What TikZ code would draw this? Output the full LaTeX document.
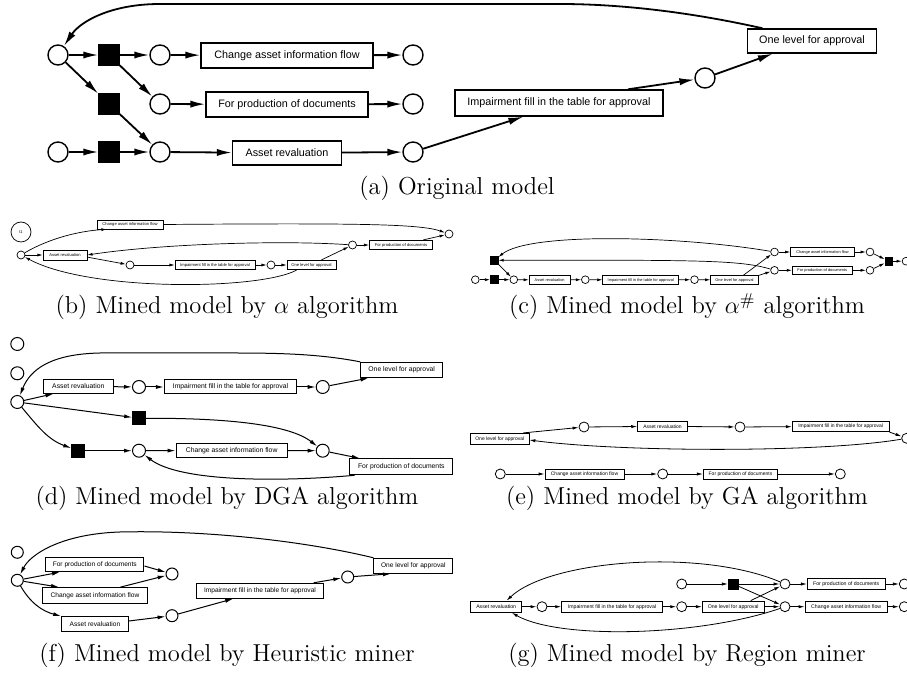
\documentclass[tikz,border=0pt]{standalone}
\usepackage{fontspec}
\newfontfamily\lab{Liberation Sans}
\usetikzlibrary{arrows.meta,calc}
\begin{document}
\begin{tikzpicture}[x=0.5pt,y=-0.5pt,
  bw/.style={minimum width=#1*0.5pt},
  bh/.style={minimum height=#1*0.5pt},
  bx/.style={draw,rectangle,inner sep=0pt,fill=white},
  plc/.style={circle,draw,fill=white,inner sep=0pt,minimum size=#1*0.5pt},
  trs/.style={rectangle,draw,fill=black,inner sep=0pt,minimum size=#1*0.5pt},
  captxt/.style={anchor=base,font=\fontsize{12.25}{14}\selectfont,inner sep=0pt},
  fA/.style={font=\lab\fontsize{5.4}{6}\selectfont},
  fB/.style={font=\lab\fontsize{2.05}{2.5}\selectfont},
  fC/.style={font=\lab\fontsize{1.95}{2.4}\selectfont},
  fD/.style={font=\lab\fontsize{3.4}{4}\selectfont},
  fE/.style={font=\lab\fontsize{2.5}{3}\selectfont},
  fF/.style={font=\lab\fontsize{3.3}{4}\selectfont},
  fG/.style={font=\lab\fontsize{2.6}{3}\selectfont},
  arA/.style={line width=0.9pt,-{Latex[length=7.5pt,width=3.6pt]}},
  arB/.style={line width=0.35pt,-{Latex[length=2.6pt,width=1.5pt]}},
  arD/.style={line width=0.5pt,-{Latex[length=4pt,width=2pt]}},
  arE/.style={line width=0.4pt,-{Latex[length=3pt,width=1.6pt]}},
]
\useasboundingbox (0,0) rectangle (907,673);

% ---------------- (a) ----------------
\begin{scope}[line width=0.7pt]
\node[plc=20] (a_p1) at (58,55) {};
\node[trs=20] (a_t1) at (109,55) {};
\node[plc=20] (a_pc) at (160,55) {};
\node[bx,fA,bw=172,bh=25] (a_bc) at (287,55.5) {Change asset information flow};
\node[plc=20] (a_ec) at (413,55) {};
\node[trs=20] (a_t2) at (109,104) {};
\node[plc=20] (a_pp) at (160,104) {};
\node[bx,fA,bw=162,bh=25] (a_bp) at (287,104.5) {For production of documents};
\node[plc=20] (a_ep) at (413,104) {};
\node[plc=20] (a_s3) at (58,152) {};
\node[trs=20] (a_t3) at (109,152) {};
\node[plc=20] (a_pa) at (160,152) {};
\node[bx,fA,bw=109,bh=24] (a_ba) at (287,153) {Asset revaluation};
\node[plc=20] (a_pa2) at (413,152) {};
\node[bx,fA,bw=208,bh=26] (a_bi) at (559,103) {Impairment fill in the table for approval};
\node[plc=20] (a_pi) at (705,78) {};
\node[bx,fA,bw=129,bh=24] (a_bo) at (812,41) {One level for approval};
\end{scope}
\draw[arA] (a_p1) -- (a_t1);
\draw[arA] (a_t1) -- (a_pc);
\draw[arA] (a_t1) -- (a_pp);
\draw[arA] (a_p1) -- (a_t2);
\draw[arA] (a_t2) -- (a_pa);
\draw[arA] (a_s3) -- (a_t3);
\draw[arA] (a_t3) -- (a_pa);
\draw[arA] (a_pc) -- (a_bc);
\draw[arA] (a_bc) -- (a_ec);
\draw[arA] (a_pp) -- (a_bp);
\draw[arA] (a_bp) -- (a_ep);
\draw[arA] (a_pa) -- (a_ba);
\draw[arA] (a_ba) -- (a_pa2);
\draw[arA] (a_pa2) -- ($(a_bi.south west)!0.33!(a_bi.south east)$);
\draw[arA] ($(a_bi.north west)!0.83!(a_bi.north east)$) -- (a_pi);
\draw[arA] (a_pi) -- ($(a_bo.south west)!0.2!(a_bo.south east)$);
\draw[arA] ($(a_bo.north west)!0.12!(a_bo.north east)$) .. controls (690,12) and (620,4) .. (560,4) -- (160,4) .. controls (110,4) and (80,22) .. (a_p1);
\node[captxt] (capa) at (457,195) {(a) Original model};

% ---------------- (b) ----------------
\begin{scope}[line width=0.35pt]
\node[plc=20,fB] (b_t1) at (21,232) {t1};
\node[plc=8] (b_s) at (21,255) {};
\node[bx,fB,bw=44,bh=10] (b_ba) at (65,255) {Asset revaluation};
\node[bx,fB,bw=66,bh=9] (b_bc) at (130,224.5) {Change asset information flow};
\node[plc=8] (b_p1) at (130,265) {};
\node[bx,fB,bw=80,bh=9.5] (b_bi) at (215,265) {Impairment fill in the table for approval};
\node[plc=8] (b_p2) at (271,265) {};
\node[bx,fB,bw=49,bh=9.5] (b_bo) at (311.5,265) {One level for approval};
\node[plc=8] (b_p3) at (352.5,245) {};
\node[bx,fB,bw=63,bh=9.5] (b_bp) at (401,245) {For production of documents};
\node[plc=8] (b_e) at (449,234) {};
\end{scope}
\draw[arB] (b_s) -- (b_ba);
\draw[arB] (b_s) .. controls (50,238) and (80,231) .. ($(b_bc.south west)!0.15!(b_bc.south east)$);
\draw[arB] (b_bc.east) .. controls (360,223) and (420,224) .. (b_e);
\draw[arB] ($(b_ba.north east)!0.7!(b_ba.south east)$) -- (b_p1);
\draw[arB] (b_p1) -- (b_bi);
\draw[arB] (b_bi) -- (b_p2);
\draw[arB] (b_p2) -- (b_bo);
\draw[arB] ($(b_bo.north west)!0.7!(b_bo.north east)$) -- (b_p3);
\draw[arB] (b_p3) -- (b_bp);
\draw[arB] ($(b_bp.north west)!0.85!(b_bp.north east)$) -- (b_e);
\draw[arB] (b_p3) .. controls (280,240) and (160,244) .. (b_ba.east);
\draw[arB] ($(b_bo.south west)!0.2!(b_bo.south east)$) .. controls (260,290) and (90,292) .. (b_s);
\node[captxt] (capb) at (227,314) {(b) Mined model by $\alpha$ algorithm};

% ---------------- (c) ----------------
\begin{scope}[line width=0.35pt]
\node[plc=7.7] (c_s) at (475.3,279.7) {};
\node[trs=7.7] (c_t1) at (494.3,279.7) {};
\node[plc=7.7] (c_p1) at (513.8,279.7) {};
\node[trs=7.7] (c_t0) at (494.3,260.3) {};
\node[bx,fC,bw=41,bh=8.5] (c_ba) at (549.7,280) {Asset revaluation};
\node[plc=7.7] (c_p2) at (585.3,279.7) {};
\node[bx,fC,bw=76,bh=8.5] (c_bi) at (640.8,280) {Impairment fill in the table for approval};
\node[plc=7.7] (c_p3) at (694.5,279.7) {};
\node[bx,fC,bw=47.7,bh=8.5] (c_bo) at (734.5,280) {One level for approval};
\node[plc=7.7] (c_pu) at (774.5,252) {};
\node[plc=7.7] (c_pl) at (774.5,270.3) {};
\node[bx,fC,bw=63.7,bh=8.5] (c_bc) at (822.5,252) {Change asset information flow};
\node[bx,fC,bw=60,bh=8.5] (c_bp) at (822.3,270.3) {For production of documents};
\node[plc=7.7] (c_pcu) at (870,252) {};
\node[plc=7.7] (c_pcl) at (870,270.3) {};
\node[trs=7.7] (c_t2) at (888.8,261.2) {};
\node[plc=7.7] (c_e) at (906,261.2) {};
\end{scope}
\draw[arB] (c_s) -- (c_t1);
\draw[arB] (c_t1) -- (c_p1);
\draw[arB] (c_t0) -- (c_p1);
\draw[arB] (c_p1) -- (c_ba);
\draw[arB] (c_ba) -- (c_p2);
\draw[arB] (c_p2) -- (c_bi);
\draw[arB] (c_bi) -- (c_p3);
\draw[arB] (c_p3) -- (c_bo);
\draw[arB] ($(c_bo.north west)!0.68!(c_bo.north east)$) -- (c_pu);
\draw[arB] (c_bo.north east) -- (c_pl);
\draw[arB] (c_pu) .. controls (680,236) and (530,232) .. (c_t0);
\draw[arB] (c_pl) .. controls (740,260) and (700,260) .. (c_t0);
\draw[arB] (c_pu) -- (c_bc);
\draw[arB] (c_bc) -- (c_pcu);
\draw[arB] (c_pcu) -- (c_t2);
\draw[arB] (c_pl) -- (c_bp);
\draw[arB] (c_bp) -- (c_pcl);
\draw[arB] (c_pcl) -- (c_t2);
\draw[arB] (c_t2) -- (c_e);
\node[captxt] (capc) at (687,314) {(c) Mined model by $\alpha^{\#}$ algorithm};

% ---------------- (d) ----------------
\begin{scope}[line width=0.5pt]
\node[plc=13] (d_p0) at (17.3,344) {};
\node[plc=13] (d_p00) at (17.3,373.3) {};
\node[plc=13] (d_s) at (17.3,402) {};
\node[bx,fD,bw=70,bh=14] (d_ba) at (78.3,386.3) {Asset revaluation};
\node[plc=13] (d_p1) at (139,387) {};
\node[bx,fD,bw=132.3,bh=14] (d_bi) at (230.5,387) {Impairment fill in the table for approval};
\node[plc=13] (d_p2) at (322.7,387) {};
\node[bx,fD,bw=82,bh=15.3] (d_bo) at (401.7,370) {One level for approval};
\node[trs=13] (d_t1) at (139.2,418.3) {};
\node[trs=13] (d_t2) at (78.3,450.7) {};
\node[plc=13] (d_p3) at (139,450.7) {};
\node[bx,fD,bw=111.3,bh=14.3] (d_bc) at (231.7,450.5) {Change asset information flow};
\node[plc=13] (d_p4) at (322.7,450.7) {};
\node[bx,fD,bw=102.7,bh=16] (d_bp) at (401.3,466.8) {For production of documents};
\end{scope}
\draw[arD] (d_bo.north west) .. controls (320,354) and (280,353) .. (233,353) -- (100,353) .. controls (50,354) and (30,370) .. (d_s);
\draw[arD] (d_s) -- ($(d_ba.south west)!0.15!(d_ba.south east)$);
\draw[arD] (d_ba) -- (d_p1);
\draw[arD] (d_p1) -- (d_bi);
\draw[arD] (d_bi) -- (d_p2);
\draw[arD] (d_p2) -- ($(d_bo.south west)!0.1!(d_bo.south east)$);
\draw[arD] (d_s) -- (d_t1);
\draw[arD] (d_s) to[out=-50,in=160] (d_t2);
\draw[arD] (d_t2) -- (d_p3);
\draw[arD] (d_p3) -- (d_bc);
\draw[arD] (d_bc) -- (d_p4);
\draw[arD] (d_t1) .. controls (230,418) and (290,425) .. (d_p4);
\draw[arD] (d_p4) -- ($(d_bp.north west)!0.1!(d_bp.north east)$);
\draw[arD] ($(d_bp.south west)!0.05!(d_bp.south east)$) .. controls (280,482) and (180,482) .. (d_p3);
\node[captxt] (capd) at (227,505) {(d) Mined model by DGA algorithm};

% ---------------- (e) ----------------
\begin{scope}[line width=0.4pt]
\node[bx,fE,bw=58.3,bh=11] (e_bo) at (499.8,438.8) {One level for approval};
\node[plc=10] (e_p1) at (584,427) {};
\node[bx,fE,bw=49.7,bh=10.7] (e_ba) at (662.5,426.3) {Asset revaluation};
\node[plc=10] (e_p2) at (740,427) {};
\node[bx,fE,bw=96.7,bh=10.7] (e_bi) at (840.7,426.3) {Impairment fill in the table for approval};
\node[plc=10] (e_e) at (906.7,438.3) {};
\node[plc=10] (e_q1) at (500.3,474) {};
\node[bx,fE,bw=79,bh=10] (e_bc) at (584.5,474) {Change asset information flow};
\node[plc=10] (e_q2) at (662.7,474) {};
\node[bx,fE,bw=74.3,bh=10] (e_bp) at (740.5,474) {For production of documents};
\node[plc=10] (e_q3) at (840.3,474) {};
\end{scope}
\draw[arE] ($(e_bo.north west)!0.9!(e_bo.north east)$) -- (e_p1);
\draw[arE] (e_p1) -- (e_ba);
\draw[arE] (e_ba) -- (e_p2);
\draw[arE] (e_p2) -- (e_bi);
\draw[arE] (e_bi.south east) -- (e_e);
\draw[arE] (e_e) .. controls (820,453) and (620,452) .. ($(e_bo.north east)!0.6!(e_bo.south east)$);
\draw[arE] (e_q1) -- (e_bc);
\draw[arE] (e_bc) -- (e_q2);
\draw[arE] (e_q2) -- (e_bp);
\draw[arE] (e_bp) -- (e_q3);
\node[captxt] (cape) at (687,505) {(e) Mined model by GA algorithm};

% ---------------- (f) ----------------
\begin{scope}[line width=0.5pt]
\node[plc=12] (f_p0) at (17.3,552.3) {};
\node[plc=12] (f_s) at (17.3,580.3) {};
\node[bx,fF,bw=98.3,bh=14.3] (f_bp) at (94.8,564.5) {For production of documents};
\node[bx,fF,bw=104.7,bh=15.7] (f_bc) at (95,595.5) {Change asset information flow};
\node[plc=12] (f_p1) at (172,574) {};
\node[bx,fF,bw=66.7,bh=15] (f_ba) at (95,624.2) {Asset revaluation};
\node[plc=12] (f_p2) at (172,615.7) {};
\node[bx,fF,bw=126.7,bh=15] (f_bi) at (260,590.8) {Impairment fill in the table for approval};
\node[plc=12] (f_p3) at (347.7,577) {};
\node[bx,fF,bw=78.7,bh=15] (f_bo) at (413.3,565.8) {One level for approval};
\end{scope}
\draw[arD] (f_bo.north west) .. controls (300,540) and (200,530) .. (120,532) .. controls (60,534) and (30,555) .. (f_s);
\draw[arD] (f_s) -- ($(f_bp.south west)!0.15!(f_bp.south east)$);
\draw[arD] (f_s) -- ($(f_bc.north west)!0.16!(f_bc.north east)$);
\draw[arD] (f_s) to[out=-60,in=165] (f_ba.north west);
\draw[arD] ($(f_bp.north east)!0.6!(f_bp.south east)$) -- (f_p1);
\draw[arD] ($(f_bc.north west)!0.74!(f_bc.north east)$) -- (f_p1);
\draw[arD] ($(f_ba.north east)!0.3!(f_ba.south east)$) -- (f_p2);
\draw[arD] (f_p2) -- ($(f_bi.south west)!0.29!(f_bi.south east)$);
\draw[arD] ($(f_bi.north west)!0.92!(f_bi.north east)$) -- (f_p3);
\draw[arD] (f_p3) -- ($(f_bo.south west)!0.22!(f_bo.south east)$);
\node[captxt] (capf) at (227,662) {(f) Mined model by Heuristic miner};

% ---------------- (g) ----------------
\begin{scope}[line width=0.4pt]
\node[bx,fG,bw=51,bh=11.3] (g_ba) at (496.2,606.7) {Asset revaluation};
\node[plc=10] (g_p1) at (542,606.7) {};
\node[bx,fG,bw=100.7,bh=11.3] (g_bi) at (612,606.7) {Impairment fill in the table for approval};
\node[plc=10] (g_p2) at (681.7,606.7) {};
\node[bx,fG,bw=61.7,bh=11.3] (g_bo) at (733.2,606.7) {One level for approval};
\node[plc=10] (g_pl) at (785,606.7) {};
\node[bx,fG,bw=82.3,bh=11.3] (g_bc) at (846.2,606.7) {Change asset information flow};
\node[plc=10] (g_el) at (904.3,606.7) {};
\node[plc=10] (g_q) at (681.7,584) {};
\node[trs=10] (g_t) at (733.3,584) {};
\node[plc=10] (g_pu) at (785,584) {};
\node[bx,fG,bw=77.7,bh=11] (g_bp) at (846.2,584) {For production of documents};
\node[plc=10] (g_eu) at (904.3,584) {};
\end{scope}
\draw[arE] (g_pu) .. controls (700,548) and (550,560) .. ($(g_ba.north west)!0.7!(g_ba.north east)$);
\draw[arE] (g_pl) .. controls (700,636) and (560,640) .. ($(g_ba.south west)!0.8!(g_ba.south east)$);
\draw[arE] (g_ba) -- (g_p1);
\draw[arE] (g_p1) -- (g_bi);
\draw[arE] (g_bi) -- (g_p2);
\draw[arE] (g_p2) -- (g_bo);
\draw[arE] (g_bo) -- (g_pl);
\draw[arE] ($(g_bo.north west)!0.78!(g_bo.north east)$) -- (g_pu);
\draw[arE] (g_q) -- (g_t);
\draw[arE] (g_t) -- (g_pu);
\draw[arE] (g_t) -- (g_pl);
\draw[arE] (g_pu) -- (g_bp);
\draw[arE] (g_bp) -- (g_eu);
\draw[arE] (g_pl) -- (g_bc);
\draw[arE] (g_bc) -- (g_el);
\node[captxt] (capg) at (687,662) {(g) Mined model by Region miner};
\end{tikzpicture}
\end{document}
